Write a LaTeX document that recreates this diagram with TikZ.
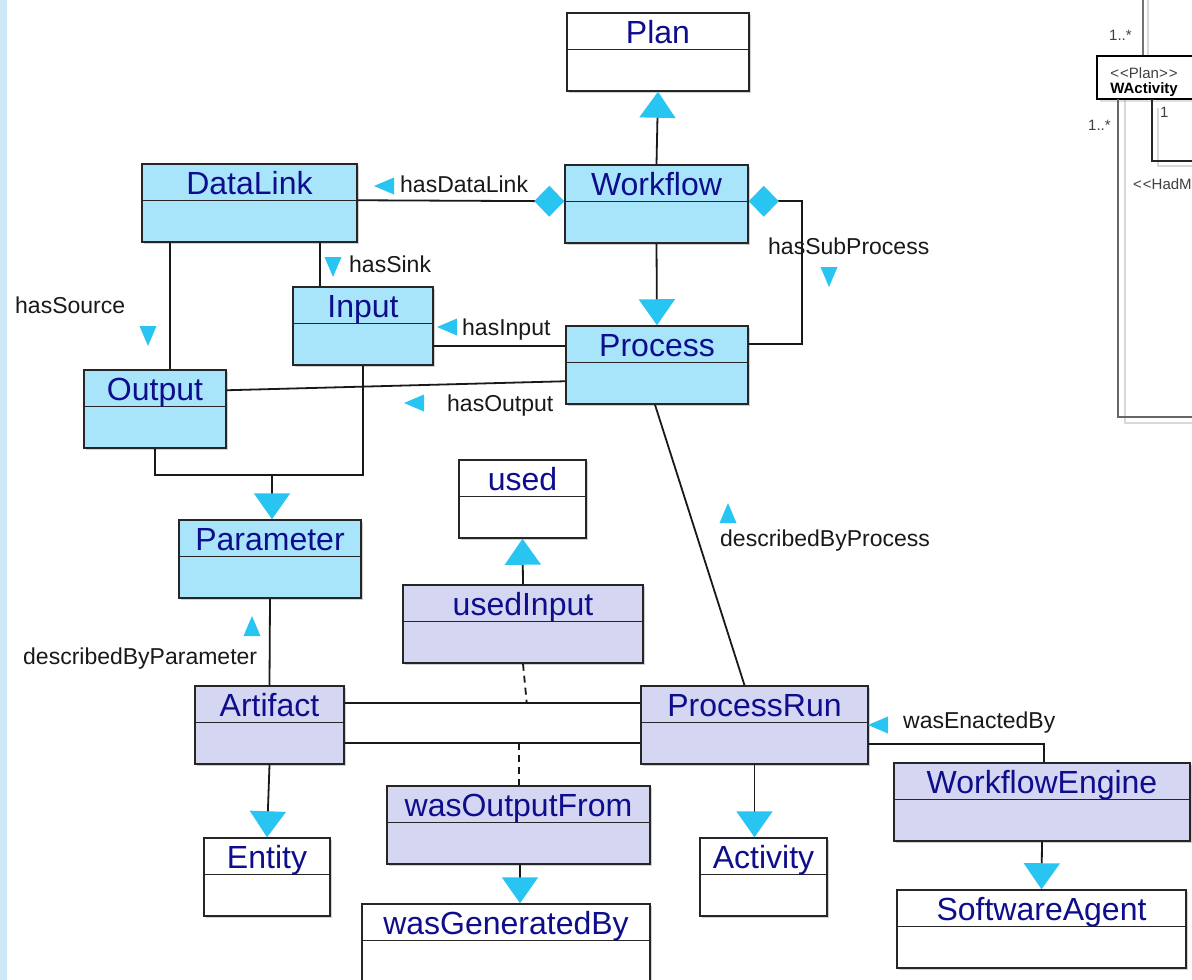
\documentclass[tikz,border=0pt]{standalone}
\usepackage{fontspec}
\setmainfont{Liberation Sans}
\usetikzlibrary{arrows.meta,calc,fit,shadows}

\definecolor{bluefill}{RGB}{168,229,250}
\definecolor{lavfill}{RGB}{213,214,242}
\definecolor{titleblue}{RGB}{14,14,140}
\definecolor{tipcyan}{RGB}{40,196,242}
\definecolor{stripblue}{RGB}{204,232,246}
\definecolor{labelgray}{RGB}{25,25,25}

\tikzset{
  classbody/.style={draw=black!85, line width=1.5pt, inner sep=0pt,
    drop shadow={shadow xshift=2pt, shadow yshift=-2pt, opacity=.3, fill=black!60}},
  sepline/.style={draw=black!85, line width=1.5pt},
  titletext/.style={anchor=base, inner sep=0pt, text=titleblue, font=\fontsize{32}{32}\selectfont},
  rolelabel/.style={anchor=base west, inner sep=0pt, text=labelgray, font=\fontsize{23}{23}\selectfont},
  assoc/.style={draw=black!90, line width=1.8pt},
  gen/.style={assoc, -{Triangle[width=36pt,length=26pt,color=tipcyan]}},
  composite/.style={assoc, {Diamond[width=31pt,length=30pt,color=tipcyan]}-},
  linkdash/.style={assoc, dash pattern=on 7pt off 5pt},
  marker/.style={fill=tipcyan},
  faint/.style={draw=black!15, line width=1.2pt},
  smalltext/.style={inner sep=0pt, text=black!75, font=\fontsize{15}{15}\selectfont},
}

% UML class box: name, fill, left, top, right, title
\newcommand\classbox[6]{%
  \node[classbody, fill=#2, fit={(#3,#4) (#5,#4+78)}] (#1) {};
  \draw[sepline] ($(#1.north west)+(0,37)$) coordinate (#1-sepw)
     -- ($(#1.north east)+(0,37)$) coordinate (#1-sepe);
  \node[titletext] (#1-title) at ($(#1.north)+(0,31)$) {#6};
}
% direction markers next to role names (tip given)
\newcommand\markleft[1]{\fill[marker] (#1) -- ++(20,-8.5) -- ++(0,17) -- cycle;}
\newcommand\markdown[1]{\fill[marker] (#1) -- ++(-8.5,-20) -- ++(17,0) -- cycle;}
\newcommand\markup[1]{\fill[marker] (#1) -- ++(-8.5,20) -- ++(17,0) -- cycle;}

\begin{document}
\begin{tikzpicture}[x=1pt, y=-1pt]
\useasboundingbox (0,0) rectangle (1192,980);
\clip (0,0) rectangle (1192,980);
\fill[white] (0,0) rectangle (1192,980);
\fill[stripblue] (0,0) rectangle (7,980);

% ---- neighbouring diagram fragment at the right edge
\coordinate (topin) at (1143,0);
\draw[faint] (1148,0) -- (1148,56);
\draw[faint] (1125,100) -- (1125,423) -- (1192,423);
\draw[faint] (1158,108) -- (1158,166) -- (1192,166);
\node[fit={(1097,56) (1206,99)}, draw=black, line width=2.6pt, inner sep=0pt, fill=white,
      drop shadow={shadow xshift=3pt, shadow yshift=-3pt, opacity=.25, fill=black!50}] (wactivity) {};
\draw[black!55, line width=1.3pt] (topin) -- (topin |- wactivity.north);
\node[smalltext, anchor=base] (wact-stereo) at (1144,78) {<\kern1pt<Plan>\kern1pt>};
\node[smalltext, anchor=base, text=black, font=\fontsize{15}{15}\selectfont\bfseries] (wact-name) at (1144,93) {WActivity};
\coordinate (hadfoot) at (1152,99);
\draw[black!85, line width=1.2pt] (hadfoot) -- (1152,161) -- (1192,161);
\coordinate (longfoot) at (1118,99);
\draw[black!60, line width=1.4pt] (longfoot) -- (1118,417) -- (1192,417);
\node[smalltext, anchor=base west] (mult-top) at (1109,40) {1..*};
\node[smalltext, anchor=base west] (mult-left) at (1088,130) {1..*};
\node[smalltext, anchor=base west] (mult-one) at (1160,117) {1};
\node[smalltext, anchor=base west] (had-label) at (1133,189) {<\kern1pt<HadM};

% ---- classes
\classbox{plan}{white}{567}{13}{749}{Plan}
\classbox{workflow}{bluefill}{565}{165}{748}{Workflow}
\classbox{datalink}{bluefill}{142}{164}{357}{DataLink}
\classbox{input}{bluefill}{293}{287}{433}{Input}
\classbox{process}{bluefill}{566}{326}{748}{Process}
\classbox{output}{bluefill}{84}{370}{226}{Output}
\classbox{parameter}{bluefill}{179}{520}{361}{Parameter}
\classbox{used}{white}{459}{460}{586}{used}
\classbox{usedinput}{lavfill}{403}{585}{643}{usedInput}
\classbox{artifact}{lavfill}{195}{686}{344}{Artifact}
\classbox{processrun}{lavfill}{641}{686}{868}{ProcessRun}
\classbox{workflowengine}{lavfill}{894}{763}{1190}{WorkflowEngine}
\classbox{entity}{white}{204}{838}{330}{Entity}
\classbox{wasoutputfrom}{lavfill}{387}{786}{650}{wasOutputFrom}
\classbox{wasgeneratedby}{white}{362}{904}{650}{wasGeneratedBy}
\classbox{activity}{white}{700}{838}{827}{Activity}
\classbox{softwareagent}{white}{897}{890}{1186}{SoftwareAgent}

% ---- workflow part
\draw[gen] (workflow.north) -- (plan.south);
\draw[gen] (workflow.south) -- (process.north);
\draw[composite] (workflow-sepw) -- (datalink-sepe);
\draw[composite] (workflow-sepe) -- ++(53,0) |- ($(process.north east)+(0,19)$);

\coordinate (sinkfoot) at ($(input.north west)+(28,0)$);
\draw[assoc] (sinkfoot) -- (sinkfoot |- datalink.south);
\coordinate (srcfoot) at ($(output.north west)+(87,0)$);
\draw[assoc] (srcfoot) -- (srcfoot |- datalink.south);
\coordinate (inputend) at ($(process.north west)+(0,21)$);
\draw[assoc] (inputend) -- (inputend -| input.east);
\draw[assoc] ($(output.north east)+(0,21)$) -- ($(process.north west)+(0,56)$);

\draw[assoc] (output.south) -- ++(0,26) -| (input.south);
\coordinate (paramjoin) at (272,476);
\draw[gen] (paramjoin) -- (paramjoin |- parameter.north);

% ---- provenance part
\draw[assoc] (parameter.south) -- (artifact.north);
\draw[gen] (usedinput.north) -- (used.south);
\draw[assoc] ($(artifact.north east)+(0,18)$) -- coordinate[pos=0.616] (usedpt) ($(processrun.north west)+(0,18)$);
\draw[assoc] ($(artifact.north east)+(0,58)$) -- coordinate[pos=0.589] (genpt) ($(processrun.north west)+(0,58)$);
\draw[linkdash] (usedinput.south) -- (usedpt);
\draw[linkdash] (genpt) -- (genpt |- wasoutputfrom.north);
\coordinate (wofoot) at ($(wasoutputfrom.south)+(1.5,0)$);
\draw[gen] (wofoot) -- (wofoot |- wasgeneratedby.north);
\draw[gen] (artifact.south) -- (entity.north);
\draw[gen] (processrun.south) -- (processrun.south |- activity.north);
\draw[assoc] ($(processrun.north east)+(0,59)$) -| ($(workflowengine.north)+(2,0)$);
\draw[gen] (workflowengine.south) -- (softwareagent.north);
\draw[assoc] ([xshift=-2pt]process.south) -- ([xshift=-10pt]processrun.north);

% ---- role names
\node[rolelabel] (lbl-datalink) at (400,192) {hasDataLink};
\node[rolelabel] (lbl-sink) at (349,272) {hasSink};
\node[rolelabel] (lbl-source) at (15,313) {hasSource};
\node[rolelabel] (lbl-sub) at (768,254) {hasSubProcess};
\node[rolelabel] (lbl-input) at (462,335) {hasInput};
\node[rolelabel] (lbl-output) at (447,411) {hasOutput};
\node[rolelabel] (lbl-param) at (23,664) {describedByParameter};
\node[rolelabel] (lbl-proc) at (720,546) {describedByProcess};
\node[rolelabel] (lbl-enact) at (903,728) {wasEnactedBy};

\markleft{374,186}
\markleft{437,327}
\markleft{404,403}
\markleft{868,725}
\markdown{333,277}
\markdown{148,346}
\markdown{829,287}
\markup{252,616}
\markup{728,503}
\end{tikzpicture}
\end{document}
